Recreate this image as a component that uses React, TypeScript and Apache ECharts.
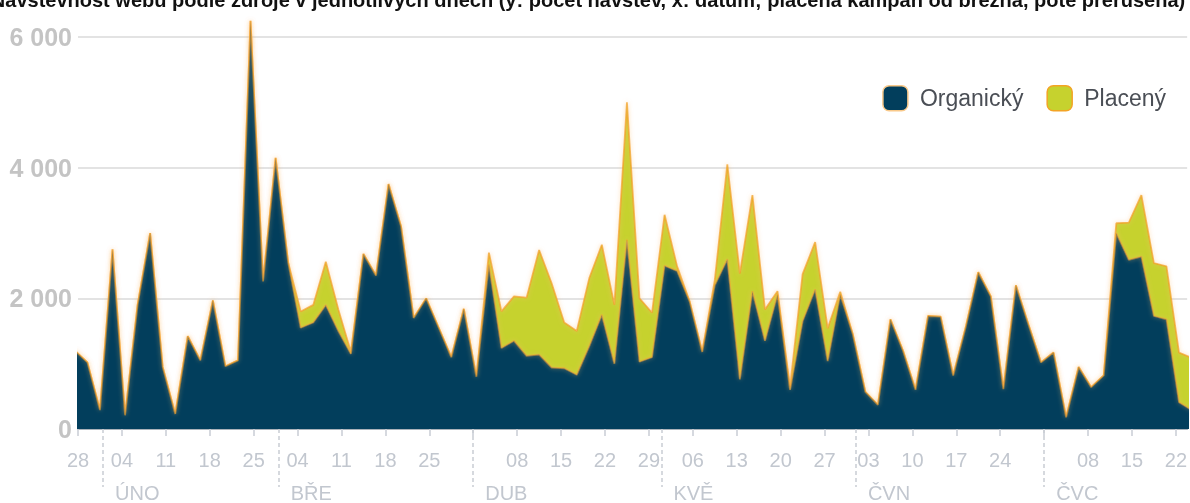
import React, { useEffect, useRef } from 'react';
import * as echarts from 'echarts';

// Data points (every second day, plotted at midday)
const dates = [
  '2018-01-27', '2018-01-29', '2018-01-31',
  '2018-02-02', '2018-02-04', '2018-02-06', '2018-02-08', '2018-02-10', '2018-02-12', '2018-02-14',
  '2018-02-16', '2018-02-18', '2018-02-20', '2018-02-22', '2018-02-24', '2018-02-26', '2018-02-28',
  '2018-03-02', '2018-03-04', '2018-03-06', '2018-03-08', '2018-03-10', '2018-03-12', '2018-03-14',
  '2018-03-16', '2018-03-18', '2018-03-20', '2018-03-22', '2018-03-24', '2018-03-26', '2018-03-28', '2018-03-30',
  '2018-04-01', '2018-04-03', '2018-04-05', '2018-04-07', '2018-04-09', '2018-04-11', '2018-04-13',
  '2018-04-15', '2018-04-17', '2018-04-19', '2018-04-21', '2018-04-23', '2018-04-25', '2018-04-27', '2018-04-29',
  '2018-05-01', '2018-05-03', '2018-05-05', '2018-05-07', '2018-05-09', '2018-05-11', '2018-05-13', '2018-05-15',
  '2018-05-17', '2018-05-19', '2018-05-21', '2018-05-23', '2018-05-25', '2018-05-27', '2018-05-29', '2018-05-31',
  '2018-06-02', '2018-06-04', '2018-06-06', '2018-06-08', '2018-06-10', '2018-06-12', '2018-06-14',
  '2018-06-16', '2018-06-18', '2018-06-20', '2018-06-22', '2018-06-24', '2018-06-26', '2018-06-28', '2018-06-30',
  '2018-07-02', '2018-07-04', '2018-07-06', '2018-07-08', '2018-07-10', '2018-07-12', '2018-07-14',
  '2018-07-16', '2018-07-18', '2018-07-20', '2018-07-22', '2018-07-24',
];

const organic = [
  1200, 1020, 290,
  2750, 210, 1900, 3000, 950, 230, 1420,
  1050, 1970, 960, 1050, 6250, 2260, 4150,
  2550, 1550, 1630, 1900, 1500, 1150, 2680,
  2350, 3750, 3100, 1700, 2000, 1550, 1100, 1840,
  800, 2520, 1240, 1350, 1120, 1140, 940,
  930, 830, 1270, 1750, 1000, 2900, 1030, 1100,
  2500, 2420, 1950, 1180, 2200, 2600, 760, 2110,
  1350, 2060, 600, 1650, 2140, 1040, 2060, 1450,
  570, 370, 1680, 1200, 600, 1730, 1720,
  820, 1560, 2400, 2030, 610, 2200, 1600, 1020,
  1170, 180, 950, 640, 820, 3000, 2590,
  2640, 1730, 1680, 410, 290,
];

const paid = [
  0, 0, 0,
  0, 0, 0, 0, 0, 0, 0,
  0, 0, 0, 0, 0, 0, 0,
  0, 250, 270, 660, 330, 30, 0,
  0, 0, 0, 0, 0, 0, 0, 0,
  0, 180, 560, 680, 890, 1600, 1290,
  700, 670, 1040, 1070, 900, 2100, 970, 680,
  780, 70, 0, 0, 80, 1450, 1620, 1470,
  480, 50, 40, 720, 720, 500, 40, 0,
  0, 0, 0, 0, 0, 0, 0,
  0, 0, 0, 0, 0, 0, 0, 0,
  0, 0, 0, 0, 0, 150, 570,
  940, 810, 810, 760, 800,
];

const startDate = '2018-01-28';
const weekTicks = [
  '2018-01-28', '2018-02-04', '2018-02-11', '2018-02-18', '2018-02-25',
  '2018-03-04', '2018-03-11', '2018-03-18', '2018-03-25',
  '2018-04-01', '2018-04-08', '2018-04-15', '2018-04-22', '2018-04-29',
  '2018-05-06', '2018-05-13', '2018-05-20', '2018-05-27',
  '2018-06-03', '2018-06-10', '2018-06-17', '2018-06-24',
  '2018-07-01', '2018-07-08', '2018-07-15', '2018-07-22',
];
const hiddenDayLabels = ['2018-04-01', '2018-07-01'];
const monthStarts = ['2018-02-01', '2018-03-01', '2018-04-01', '2018-05-01', '2018-06-01', '2018-07-01'];
const monthNames = ['ÚNO', 'BŘE', 'DUB', 'KVĚ', 'ČVN', 'ČVC'];
const yTicks = [0, 2000, 4000, 6000];
const seriesNames = ['Organický', 'Placený'];
const titleText = 'Návštěvnost webu podle zdroje v jednotlivých dnech (y: počet návštěv, x: datum; placená kampaň od března, poté přerušena)';

const DAY = 86400000;
const dayOf = (s: string, h = 0) => {
  const [y, m, d] = s.split('-').map(Number);
  const [y0, m0, d0] = startDate.split('-').map(Number);
  return (Date.UTC(y, m - 1, d, h) - Date.UTC(y0, m0 - 1, d0)) / DAY;
};
const dateOfDay = (v: number) => {
  const [y0, m0, d0] = startDate.split('-').map(Number);
  return new Date(Date.UTC(y0, m0 - 1, d0) + Math.round(v) * DAY);
};

export default function App() {
  const ref = useRef<HTMLDivElement>(null);
  useEffect(() => {
    const chart = echarts.init(ref.current!, null, { renderer: 'svg' });
    const xs = dates.map((s) => dayOf(s, 12));
    const maxDay = 176.8;
    const weekDays = weekTicks.map((s) => dayOf(s));
    const labelDays = weekTicks.filter((s) => hiddenDayLabels.indexOf(s) < 0).map((s) => dayOf(s));
    const monthDays = monthStarts.map((s) => dayOf(s));
    const font = 'Liberation Sans, Arial, sans-serif';

    chart.setOption({
      animation: false,
      textStyle: { fontFamily: font },
      graphic: [
        {
          type: 'text',
          x: 588,
          y: 0,
          style: {
            text: titleText,
            fontSize: 20,
            fontWeight: 'bold',
            fontFamily: font,
            fill: '#111',
            align: 'center',
            verticalAlign: 'middle',
          },
        },
      ],
      legend: {
        right: 19,
        top: 80,
        icon: 'roundRect',
        itemWidth: 25,
        itemHeight: 25,
        itemGap: 23,
        textStyle: { fontSize: 23, color: '#4a4e55', padding: [0, 0, 0, 7], fontFamily: font },
        data: [
          { name: seriesNames[0], itemStyle: { color: '#023e5c', borderColor: '#f9c98a', borderWidth: 1.5 } },
          { name: seriesNames[1], itemStyle: { color: '#c6d22e', borderColor: '#f3a425', borderWidth: 1.5 } },
        ],
      },
      grid: { left: 78, right: 0, top: 0, bottom: 71.5, containLabel: false },
      xAxis: [
        {
          type: 'value',
          min: 0,
          max: maxDay,
          axisLine: { show: true, onZero: false, lineStyle: { color: '#aab2ba', width: 2 } },
          axisTick: { show: true, customValues: weekDays, length: 7, lineStyle: { color: '#c8ccd4', width: 1.5 } },
          axisLabel: {
            customValues: labelDays,
            margin: 21,
            fontSize: 20,
            color: '#c2c7cf',
            fontFamily: font,
            formatter: (v: number) => {
              const d = dateOfDay(v).getUTCDate();
              return (d < 10 ? '0' : '') + d;
            },
          },
          splitLine: { show: false },
        },
        {
          type: 'value',
          min: 0,
          max: maxDay,
          position: 'bottom',
          offset: 0,
          axisLine: { show: false, onZero: false },
          axisTick: {
            show: true,
            customValues: monthDays,
            length: 58,
            lineStyle: { color: '#c9cdd3', width: 1.5, type: [4, 3] },
          },
          axisLabel: {
            customValues: monthDays,
            margin: 54,
            fontSize: 20,
            color: '#c2c7cf',
            fontFamily: font,
            align: 'left',
            padding: [0, 0, 0, 12],
            formatter: (v: number) => {
              const i = monthDays.indexOf(v);
              return i >= 0 ? monthNames[i] : '';
            },
          },
          splitLine: { show: false },
        },
      ],
      yAxis: {
        type: 'value',
        min: 0,
        max: 6568,
        interval: 2000,
        axisLine: { show: false },
        axisTick: { show: false },
        axisLabel: {
          customValues: yTicks,
          margin: 6,
          fontSize: 25,
          fontWeight: 'bold',
          color: '#c4c4c4',
          fontFamily: font,
          formatter: (v: number) => String(v).replace(/\B(?=(\d{3})+(?!\d))/g, ' '),
        },
        splitLine: { showMaxLine: false, lineStyle: { color: '#dadada', width: 1.5 } },
      },
      series: [
        {
          name: seriesNames[0],
          type: 'line',
          stack: 'total',
          z: 3,
          symbol: 'none',
          // value first, so the stack is applied to the y dimension
          data: xs.map((x, i) => [organic[i], x]),
          encode: { x: 1, y: 0 },
          itemStyle: { color: '#023e5c' },
          lineStyle: { color: 'rgba(244,158,28,0.55)', width: 1.8, shadowBlur: 4, shadowColor: 'rgba(250,190,110,0.8)' },
          areaStyle: { color: '#023e5c', opacity: 1 },
        },
        {
          name: seriesNames[1],
          type: 'line',
          stack: 'total',
          z: 2,
          symbol: 'none',
          data: xs.map((x, i) => [paid[i], x]),
          encode: { x: 1, y: 0 },
          itemStyle: { color: '#c6d22e' },
          lineStyle: { color: 'rgba(244,158,28,0.7)', width: 1.8, shadowBlur: 4, shadowColor: 'rgba(250,190,110,0.8)' },
          areaStyle: { color: '#c6d22e', opacity: 1 },
        },
      ],
    });
    return () => chart.dispose();
  }, []);
  return <div ref={ref} style={{ position: 'fixed', left: 0, top: 0, width: 1190, height: 503 }} />;
}
